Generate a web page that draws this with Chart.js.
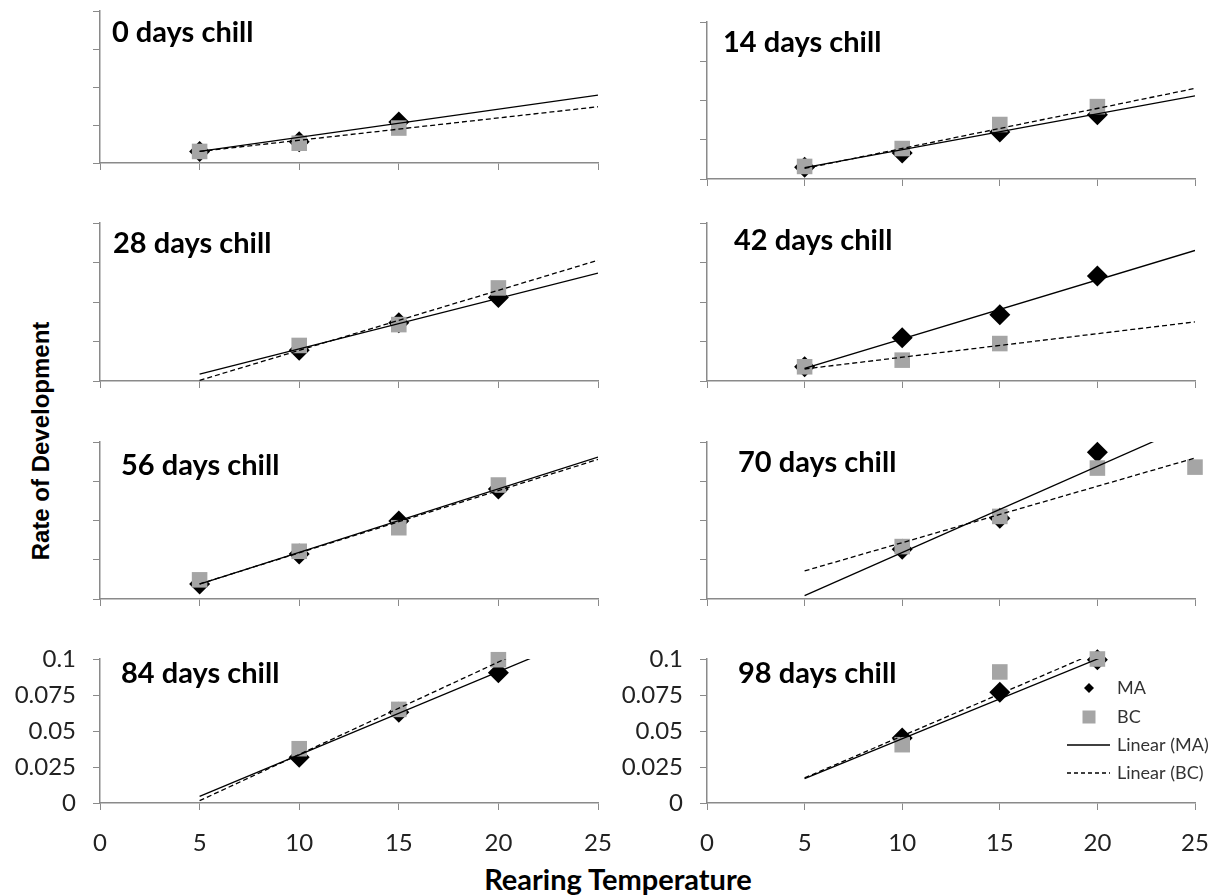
<!DOCTYPE html>
<html>
<head>
<meta charset="utf-8">
<script src="https://cdn.jsdelivr.net/npm/chart.js@4.4.1/dist/chart.umd.min.js"></script>
<style>
    body { margin: 0; background: #fff; }
    #page { position: relative; width: 1220px; height: 895px; overflow: hidden; }
    #page canvas { position: absolute; left: 0; top: 0; }
    #y-title {
        position: absolute; left: 41px; top: 441px;
        transform: translate(-50%, -50%) rotate(-90deg);
        font: bold 24px "Liberation Sans", Arial, sans-serif; white-space: nowrap; color: #000;
    }
    #x-title {
        position: absolute; left: 618px; top: 878px;
        transform: translate(-50%, -50%);
        font: bold 29px Lato, sans-serif; white-space: nowrap; color: #000;
    }
</style>
</head>
<body>
<div id="page">
    <div id="y-title">Rate of Development</div>
    <div id="x-title">Rearing Temperature</div>
</div>
<script>
// rearing temperatures (x) and chill durations (one panel each)
const temps = [5, 10, 15, 20, 25];
const chillDays = [0, 14, 28, 42, 56, 70, 84, 98];

// rate of development, null = no point
const maRates = [
    [0.0076, 0.014, 0.027, null, null],
    [0.0075, 0.0166, 0.030, 0.041, null],
    [null, 0.0195, 0.0368, 0.0529, null],
    [0.009, 0.0273, 0.042, 0.0664, null],
    [0.0096, 0.0287, 0.0497, 0.070, null],
    [null, 0.0317, 0.0515, 0.0934, null],
    [null, 0.0317, 0.063, 0.0905, null],
    [null, 0.0451, 0.0769, 0.0995, null]
];
const bcRates = [
    [0.0076, 0.013, 0.023, null, null],
    [0.008, 0.0194, 0.0347, 0.0461, null],
    [null, 0.0225, 0.0357, 0.0589, null],
    [0.009, 0.0132, 0.0237, null, null],
    [0.0122, 0.0304, 0.0454, 0.0726, null],
    [null, 0.0334, 0.0526, 0.0834, 0.084],
    [null, 0.0377, 0.065, 0.0995, null],
    [null, 0.0405, 0.091, 0.100, null]
];

// linear trendlines, value at each end of trendRange (clipped at the axis top)
const trendRange = [5, 25];
const maTrendStart = [0.0076, 0.0072, 0.0043, 0.008, 0.0094, 0.0021, 0.0046, 0.0169];
const maTrendEnd = [0.0446, 0.053, 0.0683, 0.0826, 0.0904, 0.112, 0.120, 0.1277];
const bcTrendStart = [0.0076, 0.0067, 0.0004, 0.0076, 0.0096, 0.0179, 0.0016, 0.0174];
const bcTrendEnd = [0.037, 0.0577, 0.0764, 0.0374, 0.0889, 0.0898, 0.130, 0.134];

const xTicks = [0, 5, 10, 15, 20, 25];
const yTicks = [0, 0.025, 0.05, 0.075, 0.1];
const seriesNames = ['MA', 'BC'];

// plot areas on the page [left, top, right, bottom] and title offset in the plot
const panels = [
    { box: [100, 10, 598, 163], title: [12, 31] },
    { box: [707, 22, 1195, 179], title: [16, 30] },
    { box: [100, 223, 598, 381], title: [13, 30] },
    { box: [707, 223, 1195, 381], title: [27, 27] },
    { box: [100, 442, 598, 599], title: [21, 33] },
    { box: [707, 442, 1195, 599], title: [31, 30] },
    { box: [100, 659, 598, 803], title: [21, 24], labels: true },
    { box: [707, 659, 1195, 803], title: [31, 24], labels: true, legend: true }
];

// canvases are a bit wider than the page so the last tick label never squeezes the plot
const CANVAS_W = 1260, CANVAS_H = 895, TICK = 7;
const LABEL_W = 95, LABEL_H = 60;   // room kept for tick labels on the bottom row
const AXIS = '#8a8a8a';
const GREY = '#a5a5a5';

function toPoints(values) {
    const pts = [];
    values.forEach(function (v, i) {
        if (v !== null) pts.push({ x: temps[i], y: v });
    });
    return pts;
}

// panel title and (last panel) legend
const panelText = {
    id: 'panelText',
    afterDraw(chart, args, opts) {
        const ctx = chart.ctx;
        const area = chart.chartArea;
        ctx.save();
        ctx.fillStyle = '#000';
        ctx.font = 'bold 29px Lato';
        ctx.textBaseline = 'alphabetic';
        ctx.fillText(opts.text, area.left + opts.dx, area.top + opts.dy);

        if (opts.legend) {
            const sets = chart.data.datasets;
            const mx = area.right - 106;
            const tx = area.right - 78;
            const rows = [29, 58, 86, 114].map(function (d) { return area.top + d; });
            ctx.font = '18px Lato';
            ctx.textBaseline = 'middle';
            // MA diamond
            ctx.fillStyle = '#000';
            ctx.beginPath();
            ctx.moveTo(mx, rows[0] - 5);
            ctx.lineTo(mx + 5, rows[0]);
            ctx.lineTo(mx, rows[0] + 5);
            ctx.lineTo(mx - 5, rows[0]);
            ctx.closePath();
            ctx.fill();
            // BC square
            ctx.fillStyle = GREY;
            ctx.fillRect(mx - 6.5, rows[1] - 6.5, 13, 13);
            // trend lines
            ctx.strokeStyle = '#000';
            ctx.lineWidth = 1.3;
            ctx.beginPath();
            ctx.moveTo(area.right - 128, rows[2]);
            ctx.lineTo(area.right - 85, rows[2]);
            ctx.stroke();
            ctx.setLineDash([4, 3]);
            ctx.beginPath();
            ctx.moveTo(area.right - 128, rows[3]);
            ctx.lineTo(area.right - 85, rows[3]);
            ctx.stroke();
            ctx.setLineDash([]);
            ctx.fillStyle = '#333';
            const labels = [sets[3].label, sets[2].label, sets[0].label, sets[1].label];
            labels.forEach(function (t, i) { ctx.fillText(t, tx, rows[i]); });
        }
        ctx.restore();
    }
};

function makePanel(i) {
    const p = panels[i];
    const canvas = document.createElement('canvas');
    canvas.width = CANVAS_W;
    canvas.height = CANVAS_H;
    document.getElementById('page').appendChild(canvas);

    const [left, top, right, bottom] = p.box;
    const yW = p.labels ? LABEL_W : TICK;
    const xH = p.labels ? LABEL_H : TICK;
    const tickFont = { family: 'Lato', size: 24 };

    new Chart(canvas.getContext('2d'), {
        type: 'scatter',
        data: {
            datasets: [
                {
                    label: 'Linear (' + seriesNames[0] + ')',
                    data: [{ x: trendRange[0], y: maTrendStart[i] }, { x: trendRange[1], y: maTrendEnd[i] }],
                    showLine: true, pointRadius: 0, borderColor: '#000', borderWidth: 1.3
                },
                {
                    label: 'Linear (' + seriesNames[1] + ')',
                    data: [{ x: trendRange[0], y: bcTrendStart[i] }, { x: trendRange[1], y: bcTrendEnd[i] }],
                    showLine: true, pointRadius: 0, borderColor: '#000', borderWidth: 1.3,
                    borderDash: [5, 3]
                },
                {
                    label: seriesNames[1],
                    data: toPoints(bcRates[i]),
                    pointStyle: 'rect', pointRadius: 11, borderWidth: 0,
                    backgroundColor: GREY, clip: false
                },
                {
                    label: seriesNames[0],
                    data: toPoints(maRates[i]),
                    pointStyle: 'rectRot', pointRadius: 10.5, borderWidth: 0,
                    backgroundColor: '#000', clip: false
                }
            ]
        },
        options: {
            responsive: false,
            animation: false,
            events: [],
            layout: {
                padding: { left: left - yW, top: top, right: CANVAS_W - right, bottom: CANVAS_H - bottom - xH }
            },
            plugins: {
                legend: { display: false },
                tooltip: { enabled: false },
                panelText: { text: chillDays[i] + ' days chill', dx: p.title[0], dy: p.title[1], legend: !!p.legend }
            },
            scales: {
                x: {
                    type: 'linear', min: 0, max: 25,
                    afterBuildTicks: function (s) { s.ticks = xTicks.map(function (v) { return { value: v }; }); },
                    afterFit: function (s) { s.height = xH; },
                    grid: { drawOnChartArea: false, tickLength: TICK, color: AXIS, lineWidth: 1 },
                    border: { color: AXIS, width: 1.5 },
                    ticks: { display: !!p.labels, font: tickFont, color: '#222', padding: 19, maxRotation: 0 }
                },
                y: {
                    type: 'linear', min: 0, max: 0.1,
                    afterBuildTicks: function (s) { s.ticks = yTicks.map(function (v) { return { value: v }; }); },
                    afterFit: function (s) { s.width = yW; },
                    grid: { drawOnChartArea: false, tickLength: TICK, color: AXIS, lineWidth: 1 },
                    border: { color: AXIS, width: 1.5 },
                    ticks: {
                        display: !!p.labels, font: tickFont, color: '#222', padding: 17,
                        callback: function (v) { return String(v); }
                    }
                }
            }
        },
        plugins: [panelText]
    });
}

Promise.all([
    document.fonts.load('bold 29px Lato'),
    document.fonts.load('24px Lato')
]).catch(function () {}).then(function () {
    panels.forEach(function (p, i) { makePanel(i); });
});
</script>
</body>
</html>
